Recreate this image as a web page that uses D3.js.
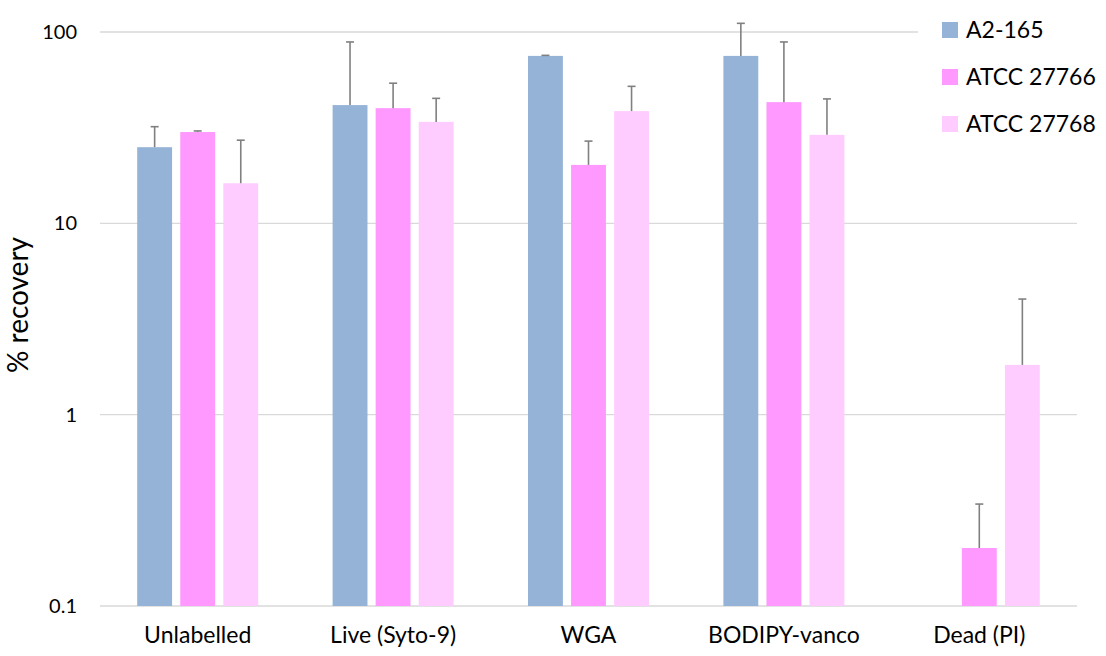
<!DOCTYPE html>
<html>
<head>
<meta charset="utf-8">
<script src="https://cdn.jsdelivr.net/npm/d3@7"></script>
<style>
  body { margin: 0; background: #fff; }
  text { font-family: Lato, "Open Sans", sans-serif; fill: #000; }
</style>
</head>
<body>
<div id="chart"></div>
<script>
const categories = ['Unlabelled', 'Live (Syto-9)', 'WGA', 'BODIPY-vanco', 'Dead (PI)'];
const seriesNames = ['A2-165', 'ATCC 27766', 'ATCC 27768'];
const seriesColors = ['#95b3d7', '#ff99ff', '#ffccff'];
// mean values per series (null = no bar)
const a2Values     = [25, 41.5, 75, 75, null];
const atcc66Values = [30, 40, 20.2, 43, 0.201];
const atcc68Values = [16.2, 33.9, 38.6, 29, 1.82];
// top of error bars
const a2ErrTop     = [32, 88.7, 75.5, 111, null];
const atcc66ErrTop = [30.4, 54, 26.9, 88.7, 0.341];
const atcc68ErrTop = [27.2, 45, 52, 44.7, 4.02];
const yTicks = [0.1, 1, 10, 100];

const W = 1106, H = 656;
const margin = { top: 32, right: 29, bottom: 50, left: 100 };
const width = W - margin.left - margin.right;
const height = H - margin.top - margin.bottom;

const values = [a2Values, atcc66Values, atcc68Values];
const errTops = [a2ErrTop, atcc66ErrTop, atcc68ErrTop];

const rows = [];
categories.forEach((c, i) => {
  seriesNames.forEach((s, j) => {
    rows.push({ cat: c, series: s, value: values[j][i], err: errTops[j][i], color: seriesColors[j] });
  });
});

const svg = d3.select('#chart').append('svg')
  .attr('width', W)
  .attr('height', H);

const g = svg.append('g')
  .attr('transform', `translate(${margin.left},${margin.top})`);

const x0 = d3.scaleBand()
  .domain(categories)
  .range([0, width])
  .paddingInner(0)
  .paddingOuter(0);

const x1 = d3.scaleBand()
  .domain(seriesNames)
  .range([x0.bandwidth() / 2 - 60.5, x0.bandwidth() / 2 + 60.5])
  .paddingInner(0.19);

const y = d3.scaleLog()
  .domain([0.1, 100])
  .range([height, 0]);

// gridlines
g.append('g')
  .selectAll('line')
  .data(yTicks)
  .join('line')
    .attr('x1', 0)
    .attr('x2', width)
    .attr('y1', d => y(d))
    .attr('y2', d => y(d))
    .attr('stroke', '#d9d9d9')
    .attr('stroke-width', 1.3);

// y axis labels
const yAxis = g.append('g')
  .call(d3.axisLeft(y).tickValues(yTicks).tickFormat(d => String(d)).tickSize(0).tickPadding(23));
yAxis.select('.domain').remove();
yAxis.selectAll('text')
  .style('font-size', '20px')
  .style('font-family', 'Lato, sans-serif');

// x axis labels
const xAxis = g.append('g')
  .attr('transform', `translate(0,${height})`)
  .call(d3.axisBottom(x0).tickSize(0).tickPadding(21));
xAxis.select('.domain').remove();
xAxis.selectAll('text')
  .style('font-size', '23px')
  .style('font-family', 'Lato, sans-serif');

// bars
const barRows = rows.filter(d => d.value != null);
g.append('g')
  .selectAll('rect')
  .data(barRows)
  .join('rect')
    .attr('x', d => x0(d.cat) + x1(d.series))
    .attr('y', d => y(d.value))
    .attr('width', x1.bandwidth())
    .attr('height', d => y(0.1) - y(d.value))
    .attr('fill', d => d.color);

// error bars
const errG = g.append('g')
  .attr('stroke', '#808080')
  .attr('stroke-width', 1.6);
barRows.forEach(d => {
  const cx = x0(d.cat) + x1(d.series) + x1.bandwidth() / 2;
  errG.append('line')
    .attr('x1', cx).attr('x2', cx)
    .attr('y1', y(d.value)).attr('y2', y(d.err));
  errG.append('line')
    .attr('x1', cx - 4).attr('x2', cx + 4)
    .attr('y1', y(d.err)).attr('y2', y(d.err));
});

// y title
svg.append('text')
  .attr('transform', 'rotate(-90)')
  .attr('x', -305)
  .attr('y', 19)
  .attr('dy', '0.32em')
  .attr('text-anchor', 'middle')
  .style('font-size', '28px')
  .text('% recovery');

// legend
const legend = svg.append('g')
  .attr('transform', 'translate(918,8)');
legend.append('rect')
  .attr('width', 170)
  .attr('height', 140)
  .attr('fill', '#fff');
seriesNames.forEach((s, i) => {
  const row = legend.append('g')
    .attr('transform', `translate(24,${22 + i * 47})`);
  row.append('rect')
    .attr('x', 0)
    .attr('y', -8)
    .attr('width', 16)
    .attr('height', 16)
    .attr('fill', seriesColors[i]);
  row.append('text')
    .attr('x', 24)
    .attr('y', 0)
    .attr('dy', '0.35em')
    .style('font-size', '23px')
    .text(s);
});
</script>
</body>
</html>
